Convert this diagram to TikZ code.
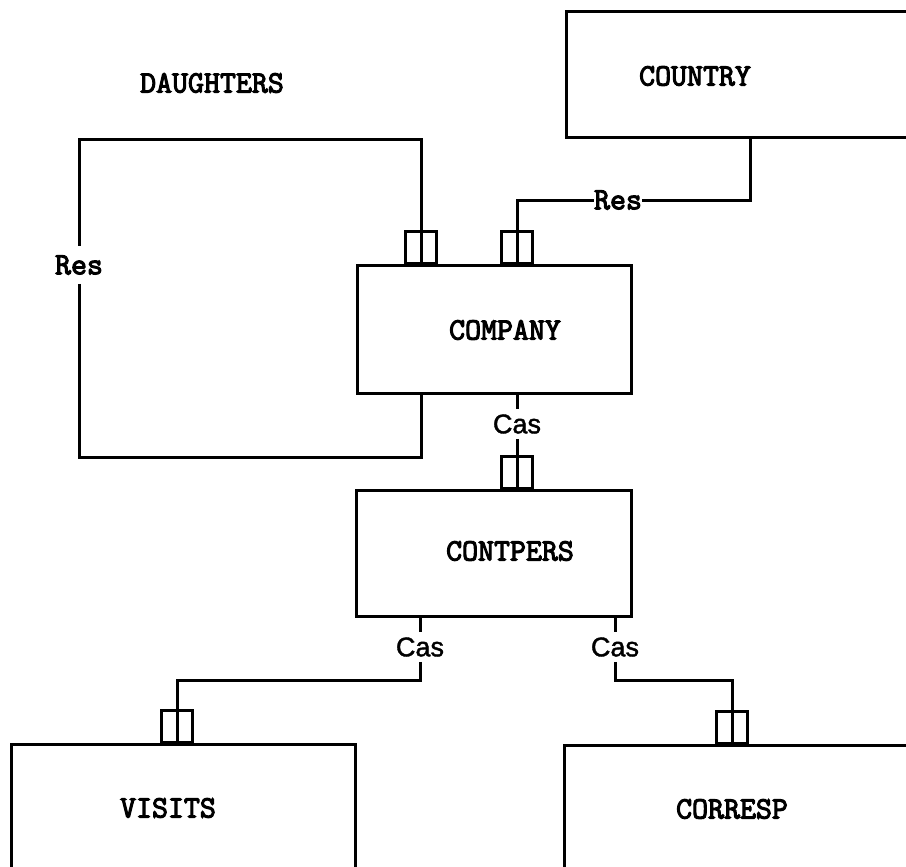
\documentclass[tikz,border=0pt]{standalone}
\usepackage{fontspec}
\newfontfamily\rolesans[FakeBold=1.5]{Liberation Sans}
\newfontfamily\boxfont[FakeBold=3.5]{Latin Modern Mono}
\begin{document}
\begin{tikzpicture}[x=1pt,y=-1pt,
  link/.style={line width=3pt, line join=miter},
  entity/.style={draw, line width=3pt, rectangle, inner sep=0pt},
  ename/.style={font=\boxfont\fontsize{31}{34}\selectfont, inner sep=0pt},
  fork/.style={draw, line width=3pt, minimum width=31pt, minimum height=32pt, inner sep=0pt, anchor=south},
  role/.style={font=\boxfont\fontsize{31}{34}\selectfont, inner xsep=0pt, inner ysep=9pt},
  cas/.style={font=\rolesans\fontsize{27}{30}\selectfont, inner xsep=0pt, inner ysep=5pt}
]
\useasboundingbox (0,0) rectangle (906,867);
\clip (0,0) rectangle (906,867);

% record types
\node[entity, minimum width=394pt, minimum height=125pt] (country)  at (763,74.5) {};
\node[entity, minimum width=274pt, minimum height=128pt] (company)  at (494,329) {};
\node[entity, minimum width=275pt, minimum height=126pt] (contpers) at (493.5,553) {};
\node[entity, minimum width=344pt, minimum height=156pt] (visits)   at (183,822) {};
\node[entity, minimum width=396pt, minimum height=155pt] (corresp)  at (762,822.5) {};

\node[ename] (countryL)  at (695,76)  {COUNTRY};
\node[ename] (companyL)  at (505,330) {COMPANY};
\node[ename] (contpersL) at (510,551) {CONTPERS};
\node[ename] (visitsL)   at (168,808) {VISITS};
\node[ename] (correspL)  at (732,809) {CORRESP};
\node[ename] (daughters) at (212,83)  {DAUGHTERS};

% set-member forks
\node[fork] (f1) at (421,265) {};
\node[fork] (f2) at (517,265) {};
\node[fork] (f3) at (517,490) {};
\node[fork] (f4) at (177,744) {};
\node[fork] (f5) at (732,745) {};

% set-type labels
\node[role] (resA) at (79,265)  {Res};
\node[role, inner ysep=4pt] (resB) at (618,200) {Res};
\node[cas] (casM) at (517,424) {Cas};
\node[cas] (casL) at (420,647) {Cas};
\node[cas] (casR) at (615,647) {Cas};

% bend points
\coordinate (dTL) at (79,139);
\coordinate (dBL) at (79,457);
\coordinate (countryPort) at (750,137);
\coordinate (elbowL) at (420,680);
\coordinate (elbowR) at (615,680);

% DAUGHTERS: recursive set on COMPANY
\draw[link] (f1.south) -- (f1.north) |- (dTL) -- (resA);
\draw[link] (resA) -- (dBL) -| (company.south -| f1);

% COUNTRY -> COMPANY
\draw[link] (f2.south) -- (f2.north) |- (resB);
\draw[link] (resB) -| (countryPort);

% COMPANY -> CONTPERS
\draw[link] (company.south -| f3) -- (casM);
\draw[link] (casM) -- (f3.north) -- (f3.south);

% CONTPERS -> VISITS, CORRESP
\draw[link] (contpers.south -| casL) -- (casL);
\draw[link] (casL) -- (elbowL) -| (f4.north) -- (f4.south);
\draw[link] (contpers.south -| casR) -- (casR);
\draw[link] (casR) -- (elbowR) -| (f5.north) -- (f5.south);
\end{tikzpicture}
\end{document}
